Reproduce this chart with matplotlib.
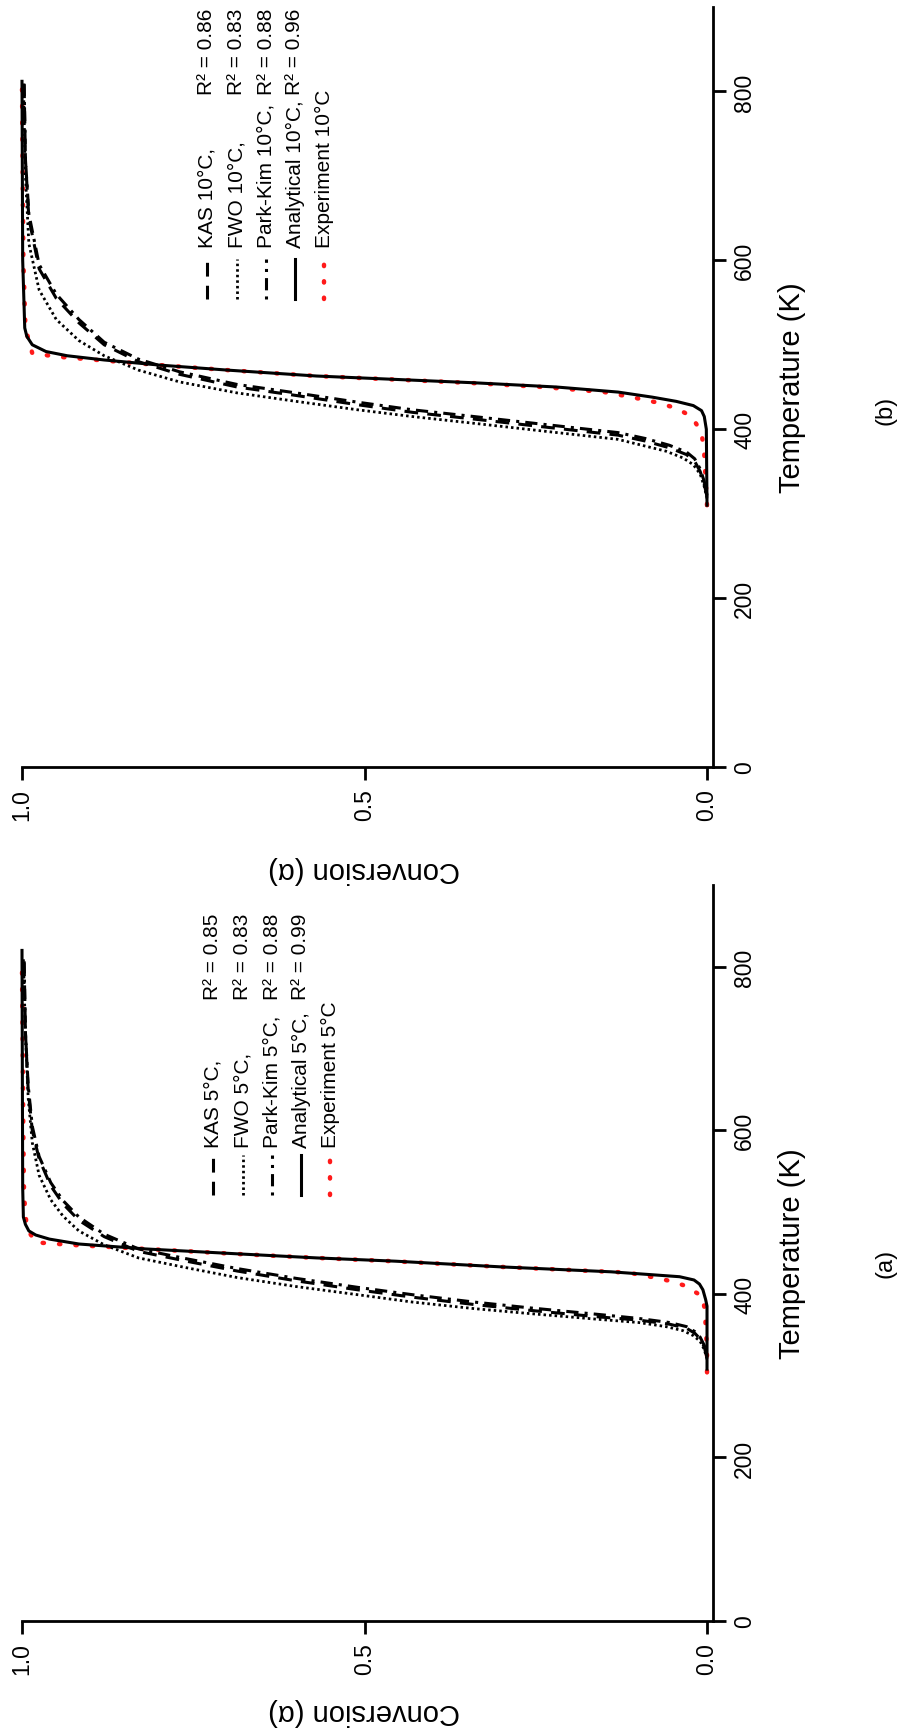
import matplotlib
matplotlib.use("Agg")
import matplotlib.pyplot as plt
from matplotlib.lines import Line2D

plt.rcParams['font.family'] = ['Liberation Sans', 'DejaVu Sans']

# ---------------- data (temperature in K, conversion alpha) ----------------
# Panel (b): 10 C/min
t_exp_10 = [310, 340, 370, 390, 400, 408, 417, 425, 432, 438, 444, 450, 455, 463, 470, 476, 482, 486, 490, 520, 600, 700, 810]
a_exp_10 = [0.0, 0.002, 0.004, 0.007, 0.011, 0.017, 0.027, 0.045, 0.075, 0.11, 0.15, 0.24, 0.35, 0.57, 0.70, 0.80, 0.89, 0.95, 0.985, 0.995, 0.998, 0.999, 1.0]

t_ana_10 = [310, 400, 415, 422, 428, 433, 438, 444, 450, 455, 463, 470, 476, 482, 487, 492, 500, 510, 520, 600, 812]
a_ana_10 = [0.0, 0.001, 0.004, 0.008, 0.02, 0.045, 0.08, 0.13, 0.22, 0.34, 0.57, 0.70, 0.80, 0.88, 0.934, 0.965, 0.985, 0.993, 0.996, 0.999, 1.0]

t_kas_10 = [320, 335, 350, 362, 370, 378, 386, 393, 402, 412, 420, 429, 440, 450, 465, 480, 500, 526, 555, 590, 650, 720, 812]
a_kas_10 = [0.0, 0.004, 0.01, 0.018, 0.03, 0.055, 0.09, 0.13, 0.23, 0.34, 0.43, 0.51, 0.60, 0.686, 0.77, 0.83, 0.88, 0.917, 0.95, 0.975, 0.99, 0.995, 0.997]

t_fwo_10 = [318, 332, 347, 358, 366, 374, 381, 388, 397, 407, 415, 423, 433, 443, 456, 470, 487, 505, 530, 565, 620, 700, 812]
a_fwo_10 = [0.0, 0.004, 0.01, 0.02, 0.035, 0.06, 0.095, 0.13, 0.23, 0.34, 0.43, 0.51, 0.60, 0.686, 0.77, 0.83, 0.88, 0.917, 0.95, 0.975, 0.99, 0.995, 0.998]

t_pk_10 = [322, 338, 353, 365, 373, 381, 389, 396, 405, 415, 423, 432, 443, 453, 468, 483, 503, 530, 560, 595, 655, 720, 812]
a_pk_10 = [0.0, 0.004, 0.01, 0.018, 0.03, 0.055, 0.09, 0.13, 0.23, 0.34, 0.43, 0.51, 0.60, 0.686, 0.77, 0.83, 0.88, 0.917, 0.95, 0.975, 0.99, 0.995, 0.997]

# Panel (a): 5 C/min
t_exp_5 = [304, 332, 360, 380, 397, 410, 416, 421, 426, 433, 440, 444, 449, 455, 460, 463, 480, 520, 590, 700, 800]
a_exp_5 = [0.0, 0.0, 0.002, 0.003, 0.007, 0.032, 0.055, 0.083, 0.115, 0.30, 0.46, 0.57, 0.69, 0.82, 0.93, 0.98, 0.993, 0.997, 0.998, 0.999, 1.0]

t_ana_5 = [308, 385, 393, 405, 412, 417, 421, 424, 427, 433, 440, 444, 449, 455, 461, 467, 472, 477, 485, 494, 530, 820]
a_ana_5 = [0.0, 0.0, 0.002, 0.006, 0.011, 0.019, 0.04, 0.09, 0.14, 0.30, 0.455, 0.57, 0.686, 0.82, 0.917, 0.96, 0.98, 0.99, 0.995, 0.998, 0.999, 1.0]

t_kas_5 = [322, 335, 345, 352, 358, 363, 368, 372, 380, 387, 396, 405, 416, 428, 440, 452, 470, 490, 510, 532, 565, 600, 650, 720, 810]
a_kas_5 = [0.0, 0.004, 0.01, 0.018, 0.03, 0.055, 0.10, 0.16, 0.26, 0.34, 0.43, 0.51, 0.60, 0.686, 0.76, 0.83, 0.88, 0.917, 0.94, 0.958, 0.975, 0.985, 0.991, 0.995, 0.997]

t_fwo_5 = [320, 332, 342, 349, 355, 360, 365, 369, 376, 382, 390, 399, 409, 420, 432, 444, 460, 477, 495, 515, 545, 585, 640, 720, 810]
a_fwo_5 = [0.0, 0.004, 0.01, 0.02, 0.035, 0.06, 0.10, 0.16, 0.26, 0.34, 0.43, 0.51, 0.60, 0.686, 0.76, 0.83, 0.88, 0.917, 0.94, 0.958, 0.975, 0.985, 0.991, 0.995, 0.998]

t_pk_5 = [324, 337, 347, 354, 360, 365, 370, 375, 383, 390, 399, 408, 419, 431, 443, 455, 473, 494, 514, 536, 568, 605, 655, 720, 810]
a_pk_5 = [0.0, 0.004, 0.01, 0.018, 0.03, 0.055, 0.10, 0.16, 0.26, 0.34, 0.43, 0.51, 0.60, 0.686, 0.76, 0.83, 0.88, 0.917, 0.94, 0.958, 0.975, 0.985, 0.991, 0.995, 0.997]

conv_ticks = [0.0, 0.5, 1.0]
conv_ticklabels = ['0.0', '0.5', '1.0']
temp_ticks = [0, 200, 400, 600, 800]
temp_ticklabels = ['0', '200', '400', '600', '800']

labels_10 = ['KAS 10\u00b0C,', 'FWO 10\u00b0C,', 'Park-Kim 10\u00b0C,', 'Analytical 10\u00b0C,', 'Experiment 10\u00b0C']
r2_10 = ['0.86', '0.83', '0.88', '0.96', None]
labels_5 = ['KAS 5\u00b0C,', 'FWO 5\u00b0C,', 'Park-Kim 5\u00b0C,', 'Analytical 5\u00b0C,', 'Experiment 5\u00b0C']
r2_5 = ['0.85', '0.83', '0.88', '0.99', None]

# ---------------- figure ----------------
W, H = 902, 1731
fig = plt.figure(figsize=(W / 100, H / 100), dpi=100)

def fx(px):
    return px / W

def fy(py):
    return 1 - py / H

styles = [
    dict(color='black', lw=2.2, ls=(0, (4.5, 3.0)), dash_capstyle='butt'),     # KAS dashed
    dict(color='black', lw=2.0, ls=(0, (0.9, 1.1)), dash_capstyle='butt'),     # FWO dotted
    dict(color='black', lw=2.2, ls=(0, (1, 2, 4, 2)), dash_capstyle='butt'),   # Park-Kim dash-dot
    dict(color='black', lw=2.2, ls='-'),                                        # Analytical
    dict(color='#ff1a1a', lw=3.2, ls=(0, (0.3, 3.4)), dash_capstyle='round'),   # Experiment
]


def make_panel(top, bottom, series, labels, r2s, leg_rows, leg_seg, leg_text_y, leg_r2_y,
               conv_label_y, panel_label, panel_label_y):
    x0, x1 = 22, 712.5
    ax = fig.add_axes([fx(x0), fy(bottom), fx(x1) - fx(x0), fy(top) - fy(bottom)])
    ax.set_xlim(1.0, -0.008)
    ax.set_ylim(0, 900)
    ax.patch.set_visible(False)
    for s in ['left', 'top']:
        ax.spines[s].set_visible(False)
    for s in ['bottom', 'right']:
        ax.spines[s].set_linewidth(2.0)
    ax.yaxis.tick_right()
    ax.set_xticks(conv_ticks)
    ax.set_xticklabels(conv_ticklabels, rotation=90, fontsize=16.5)
    ax.set_yticks(temp_ticks)
    ax.set_yticklabels(temp_ticklabels, rotation=90, fontsize=16.5, va='center')
    ax.tick_params(axis='both', length=9, width=2.0, pad=6)

    order = [4, 0, 1, 2, 3]
    for i in order:
        t, a = series[i]
        ax.plot(a, t, clip_on=False, zorder=3 if i != 4 else 2, **styles[i])

    fig.text(fx(792), fy((top + bottom) / 2), 'Temperature (K)', rotation=90,
             ha='center', va='center', fontsize=21)
    xmid = x0 + (x1 - x0) * (1.0 - 0.5) / (1.0 + 0.008)
    fig.text(fx(xmid), fy(conv_label_y), 'Conversion (\u03b1)', rotation=180,
             ha='center', va='center', fontsize=21)
    fig.text(fx(886), fy(panel_label_y), panel_label, rotation=90,
             ha='center', va='center', fontsize=17)

    for i, xr in enumerate(leg_rows):
        ln = Line2D([fx(xr), fx(xr)], [fy(leg_seg[1]), fy(leg_seg[0])],
                    transform=fig.transFigure, **styles[i])
        fig.add_artist(ln)
        fig.text(fx(xr), fy(leg_text_y), labels[i], rotation=90, rotation_mode='anchor',
                 ha='left', va='center', fontsize=15)
        if r2s[i] is not None:
            fig.text(fx(xr), fy(leg_r2_y), 'R\u00b2 = ' + r2s[i], rotation=90,
                     rotation_mode='anchor', ha='left', va='center', fontsize=15)
    return ax


series_10 = [(t_kas_10, a_kas_10), (t_fwo_10, a_fwo_10), (t_pk_10, a_pk_10),
             (t_ana_10, a_ana_10), (t_exp_10, a_exp_10)]
series_5 = [(t_kas_5, a_kas_5), (t_fwo_5, a_fwo_5), (t_pk_5, a_pk_5),
            (t_ana_5, a_ana_5), (t_exp_5, a_exp_5)]

# panel (b) on top
make_panel(8, 768, series_10, labels_10, r2_10,
           leg_rows=[207, 237, 266, 295, 324], leg_seg=(260, 300),
           leg_text_y=248, leg_r2_y=95, conv_label_y=870,
           panel_label='(b)', panel_label_y=410)

# panel (a) below
make_panel(886, 1622, series_5, labels_5, r2_5,
           leg_rows=[213, 243, 272, 301, 330], leg_seg=(1156, 1196),
           leg_text_y=1148, leg_r2_y=1000, conv_label_y=1712,
           panel_label='(a)', panel_label_y=1263)

fig.savefig('out.png', dpi=100, facecolor='white')
